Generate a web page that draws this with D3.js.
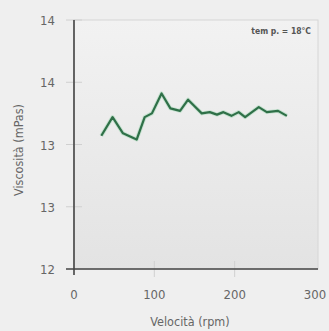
<!DOCTYPE html>
<html>
<head>
<meta charset="utf-8">
<script src="https://cdn.jsdelivr.net/npm/d3@7.9.0/dist/d3.min.js"></script>
<style>
  body { margin: 0; background: #efefef; }
  svg { display: block; font-family: "DejaVu Sans Condensed", "Liberation Sans Narrow", "Liberation Sans", sans-serif; }
</style>
</head>
<body>
<svg id="chart" width="329" height="331"></svg>
<script>
// velocità (rpm) / viscosità (mPas)
const speed = [34, 48, 61, 78, 88, 97, 109, 120, 132, 142, 159, 169, 178, 186, 196, 205, 213, 230, 240, 254, 265];
const viscosity = [13.07, 13.22, 13.09, 13.04, 13.22, 13.25, 13.41, 13.29, 13.27, 13.36, 13.25, 13.26, 13.24, 13.26, 13.23, 13.26, 13.22, 13.30, 13.26, 13.27, 13.23];
const xTicks = [0, 100, 200, 300];
const yTicks = [12, 12.5, 13, 13.5, 14];
const note = 'tem p. = 18°C';

const svg = d3.select('#chart');
const pLeft = 74, pRight = 318, pTop = 20, pBottom = 269;

const x = d3.scaleLinear().domain([0, 300]).range([pLeft, 315]);
const y = d3.scaleLinear().domain([12, 14]).range([pBottom, pTop]);

const defs = svg.append('defs');
const grad = defs.append('linearGradient').attr('id', 'bg').attr('x1', 0).attr('y1', 0).attr('x2', 0).attr('y2', 1);
grad.append('stop').attr('offset', '0%').attr('stop-color', '#f2f2f2');
grad.append('stop').attr('offset', '100%').attr('stop-color', '#e3e3e3');

svg.append('rect')
  .attr('x', pLeft).attr('y', pTop)
  .attr('width', pRight - pLeft).attr('height', pBottom - pTop)
  .attr('fill', 'url(#bg)')
  .attr('stroke', '#d6d6d6');

// faint tick marks
yTicks.slice(1).forEach(t => {
  svg.append('line')
    .attr('x1', pLeft - 8).attr('x2', pLeft + 8)
    .attr('y1', y(t)).attr('y2', y(t))
    .attr('stroke', '#d0d0d0');
});
xTicks.slice(1, 3).forEach(t => {
  svg.append('line')
    .attr('x1', x(t)).attr('x2', x(t))
    .attr('y1', pBottom - 8).attr('y2', pBottom + 8)
    .attr('stroke', '#d0d0d0');
});

// axes lines
svg.append('line').attr('x1', pLeft).attr('x2', pLeft).attr('y1', pTop).attr('y2', pBottom + 6)
  .attr('stroke', '#444').attr('stroke-width', 1.6);
svg.append('line').attr('x1', pLeft - 8).attr('x2', pRight).attr('y1', pBottom).attr('y2', pBottom)
  .attr('stroke', '#444').attr('stroke-width', 1.6);

// tick labels
svg.selectAll('.yl').data(yTicks).join('text')
  .attr('x', 55).attr('y', d => y(d) + 5)
  .attr('text-anchor', 'end')
  .attr('font-size', 13).attr('fill', '#666')
  .text(d => Math.round(d));
svg.selectAll('.xl').data(xTicks).join('text')
  .attr('x', d => x(d)).attr('y', 299)
  .attr('text-anchor', 'middle')
  .attr('font-size', 13).attr('fill', '#666')
  .text(d => d);

svg.append('text')
  .attr('x', 190).attr('y', 326)
  .attr('text-anchor', 'middle')
  .attr('font-size', 12.5).attr('fill', '#666')
  .text('Velocità (rpm)');
svg.append('text')
  .attr('transform', 'translate(23,150) rotate(-90)')
  .attr('text-anchor', 'middle')
  .attr('font-size', 12.5).attr('fill', '#666')
  .text('Viscosità (mPas)');

svg.append('text')
  .attr('x', 311).attr('y', 34)
  .attr('text-anchor', 'end')
  .attr('font-size', 8.5).attr('font-weight', 'bold').attr('fill', '#555')
  .text(note);

const pts = speed.map((s, i) => [s, viscosity[i]]);
const line = d3.line().x(d => x(d[0])).y(d => y(d[1]));
svg.append('path').datum(pts)
  .attr('d', line)
  .attr('fill', 'none')
  .attr('stroke', '#9fd8b4').attr('stroke-width', 4).attr('stroke-opacity', 0.5)
  .attr('stroke-linejoin', 'round');
svg.append('path').datum(pts)
  .attr('d', line)
  .attr('fill', 'none')
  .attr('stroke', '#2f7048').attr('stroke-width', 2.2)
  .attr('stroke-linejoin', 'round');
</script>
</body>
</html>
